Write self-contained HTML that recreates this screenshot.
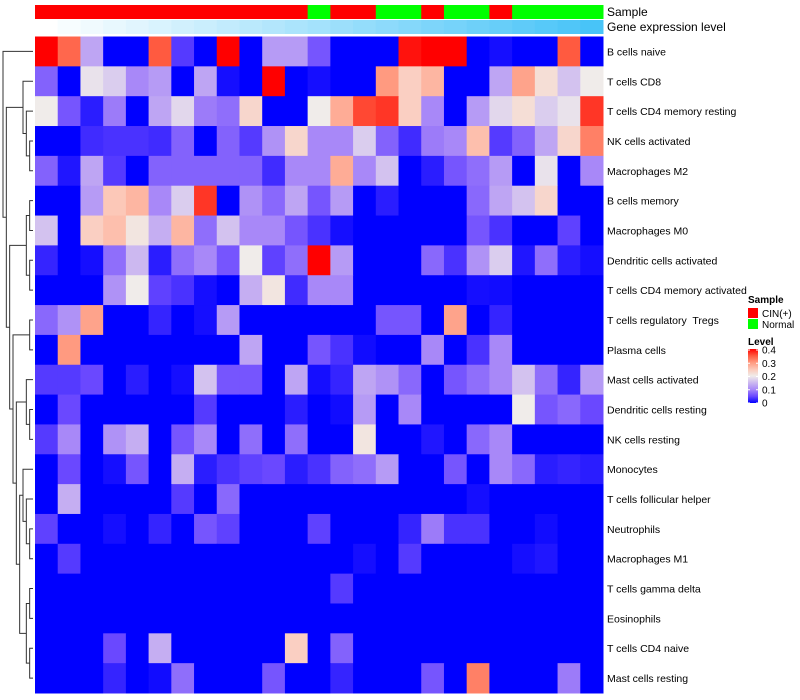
<!DOCTYPE html>
<html><head><meta charset="utf-8"><style>
html,body{margin:0;padding:0;background:#fff;}
svg{display:block;font-family:"Liberation Sans",Arial,sans-serif;}
</style></head><body>
<svg id="chart" width="800" height="700" viewBox="0 0 800 700"></svg>
<script>
const rowNames = ["B cells naive","T cells CD8","T cells CD4 memory resting","NK cells activated","Macrophages M2","B cells memory","Macrophages M0","Dendritic cells activated","T cells CD4 memory activated","T cells regulatory  Tregs","Plasma cells","Mast cells activated","Dendritic cells resting","NK cells resting","Monocytes","T cells follicular helper","Neutrophils","Macrophages M1","T cells gamma delta","Eosinophils","T cells CD4 naive","Mast cells resting"];
const sampleGroups = ["CIN","CIN","CIN","CIN","CIN","CIN","CIN","CIN","CIN","CIN","CIN","CIN","Normal","CIN","CIN","Normal","Normal","CIN","Normal","Normal","CIN","Normal","Normal","Normal","Normal"];
const geneLevel = [0,1,2,3,4,5,6,7,8,9,10,11,12,13,14,15,16,17,18,19,20,21,22,23,24];
const legendTicks = [0,0.1,0.2,0.3,0.4];
const values = [
[0.4,0.34,0.13,0,0,0.35,0.04,0,0.4,0,0.12,0.12,0.06,0,0,0,0.39,0.4,0.4,0,0.01,0,0,0.35,0],
[0.07,0,0.19,0.17,0.1,0.12,0,0.13,0.01,0,0.4,0,0.01,0,0,0.3,0.24,0.27,0,0,0.13,0.29,0.22,0.16,0.2],
[0.2,0.06,0.02,0.09,0,0.13,0.18,0.09,0.08,0.23,0,0,0.2,0.28,0.36,0.37,0.24,0.1,0,0.12,0.18,0.22,0.17,0.19,0.37],
[0,0,0.03,0.035,0.035,0.03,0.07,0,0.07,0.04,0.11,0.23,0.1,0.1,0.17,0.07,0.03,0.09,0.1,0.26,0.04,0.07,0.13,0.23,0.32],
[0.07,0.015,0.13,0.04,0,0.07,0.07,0.07,0.07,0.07,0.03,0.1,0.1,0.28,0.1,0.16,0,0.02,0.06,0.08,0.12,0,0.19,0,0.1],
[0,0,0.12,0.25,0.27,0.1,0.17,0.37,0,0.11,0.075,0.13,0.06,0.12,0,0.02,0,0,0,0.075,0.13,0.16,0.23,0,0],
[0.16,0,0.24,0.26,0.21,0.14,0.27,0.08,0.16,0.1,0.1,0.06,0.035,0.01,0,0,0,0,0,0.06,0.035,0,0,0.045,0],
[0.025,0,0.01,0.08,0.15,0.02,0.08,0.1,0.06,0.2,0.045,0.08,0.4,0.12,0,0,0,0.075,0.035,0.11,0.17,0.015,0.08,0.02,0.01],
[0,0,0,0.11,0.2,0.045,0.035,0.01,0,0.14,0.21,0.03,0.1,0.1,0,0,0,0,0,0.01,0.008,0,0,0,0],
[0.075,0.11,0.29,0,0,0.025,0,0.01,0.12,0,0,0,0,0,0,0.06,0.06,0,0.29,0,0.025,0,0,0,0],
[0,0.3,0,0,0,0,0,0,0,0.13,0,0,0.06,0.035,0.008,0,0,0.1,0,0.035,0.1,0,0,0,0],
[0.04,0.04,0.05,0,0.02,0,0.01,0.16,0.06,0.06,0,0.13,0.01,0.025,0.13,0.11,0.075,0,0.06,0.08,0.1,0.16,0.08,0.025,0.12],
[0,0.05,0,0,0,0,0,0.04,0,0,0,0.02,0,0.008,0.12,0,0.1,0,0,0,0,0.2,0.06,0.075,0.05],
[0.04,0.1,0,0.11,0.14,0,0.06,0.1,0,0.08,0,0.08,0,0,0.21,0,0,0.015,0,0.075,0.1,0,0,0,0],
[0,0.05,0,0.01,0.06,0,0.14,0.02,0.035,0.045,0.05,0.02,0.035,0.07,0.08,0.12,0,0,0.06,0,0.1,0.075,0.02,0.025,0.02],
[0,0.14,0,0,0,0,0.04,0,0.075,0,0,0,0,0,0,0,0,0,0,0.01,0,0,0,0,0],
[0.045,0,0,0.01,0,0.025,0,0.06,0.045,0,0,0,0.045,0,0,0,0.025,0.09,0.035,0.035,0,0,0.008,0,0],
[0,0.04,0,0,0,0,0,0,0,0,0,0,0,0,0.01,0,0.04,0,0,0,0,0.01,0.015,0,0],
[0,0,0,0,0,0,0,0,0,0,0,0,0,0.04,0,0,0,0,0,0,0,0,0,0,0],
[0,0,0,0,0,0,0,0,0,0,0,0,0,0,0,0,0,0,0,0,0,0,0,0,0],
[0,0,0,0.05,0,0.14,0,0,0,0,0,0.24,0,0.07,0,0,0,0,0,0,0,0,0,0,0],
[0,0,0,0.025,0,0.008,0.08,0,0,0,0.06,0,0,0.025,0,0,0,0.06,0,0.32,0,0,0,0.09,0]
];
const NS="http://www.w3.org/2000/svg";
const svg=document.getElementById('chart');
const X0=35,X1=603,Y0=36.5,Y1=693;
const nC=values[0].length,nR=values.length;
const cw=(X1-X0)/nC,rh=(Y1-Y0)/nR;
function xPos(c){return X0+c*cw;}
function yPos(r){return Y0+r*rh;}
const stops=[[0,[0,0,255]],[0.05,[106,72,255]],[0.1,[168,136,248]],[0.15,[204,184,240]],[0.2,[240,236,234]],[0.25,[252,200,184]],[0.3,[255,154,128]],[0.35,[255,90,64]],[0.4,[255,0,0]]];
function color(v){v=Math.max(0,Math.min(0.4,v));for(let i=1;i<stops.length;i++){if(v<=stops[i][0]){const a=stops[i-1],b=stops[i];const t=(v-a[0])/(b[0]-a[0]);const c=a[1].map((x,k)=>Math.round(x+(b[1][k]-x)*t));return `rgb(${c[0]},${c[1]},${c[2]})`;}}return 'rgb(255,0,0)';}
function mk(tag,attrs){const e=document.createElementNS(NS,tag);for(const k in attrs)e.setAttribute(k,attrs[k]);return e;}
// annotation bars
sampleGroups.forEach((g,c)=>{const r=mk('rect',{x:xPos(c),y:5,width:cw+0.5,height:14,fill:g==="CIN"?"#ff0000":"#00ff00"});


svg.appendChild(r);});
geneLevel.forEach((g,c)=>{const t=g/(geneLevel.length-1);const col=`rgb(${Math.round(255-t*(255-72))},${Math.round(255-t*(255-196))},${Math.round(255-t*(255-248))})`;
const r=mk('rect',{x:xPos(c),y:20,width:cw+0.5,height:14,fill:col});


svg.appendChild(r);});
// cells
values.forEach((row,r)=>row.forEach((v,c)=>{const e=mk('rect',{x:xPos(c),y:yPos(r),width:cw+0.5,height:rh+0.5,fill:color(v)});


svg.appendChild(e);}));
// row labels
rowNames.forEach((n,r)=>{const t=mk('text',{x:607,y:yPos(r)+rh/2+4,'font-size':10.5,fill:'#000'});t.setAttribute('xml:space','preserve');t.style.whiteSpace='pre';t.textContent=n;


svg.appendChild(t);});
const a1=mk('text',{x:607,y:16,'font-size':12});a1.textContent='Sample';


svg.appendChild(a1);
const a2=mk('text',{x:607,y:31,'font-size':12});a2.textContent='Gene expression level';


svg.appendChild(a2);
// dendrogram
const tree=[0,[[1,[2,[3,4]]],[[[5,6],[7,8]],[[9,10],[[11,[12,13]],[[14,[15,[16,17]]],[[18,19],[20,21]]]]]]]];
function hgt(n){if(typeof n==='number')return 0;return 1+Math.max(hgt(n[0]),hgt(n[1]));}
const H=hgt(tree);
function hx(h){return 33-h*(30/H);}
const dg=mk('g',{stroke:'#333','stroke-width':1,fill:'none'});


svg.appendChild(dg);
function draw(n){if(typeof n==='number')return {y:yPos(n)+rh/2,x:33};
const a=draw(n[0]),b=draw(n[1]);const x=hx(hgt(n));
dg.appendChild(mk('path',{d:`M${a.x},${a.y}H${x}V${b.y}H${b.x}`}));return {y:(a.y+b.y)/2,x:x};}
draw(tree);
// legend
const lg=mk('g',{});


svg.appendChild(lg);
function txt(x,y,s,w,size){const t=mk('text',{x:x,y:y,'font-size':size||10,'font-weight':w||'normal'});t.textContent=s;lg.appendChild(t);return t;}
txt(748,303,'Sample','bold');
lg.appendChild(mk('rect',{x:748,y:308,width:10,height:10,fill:'#ff0000'}));
txt(762,317,'CIN(+)');
lg.appendChild(mk('rect',{x:748,y:319,width:10,height:10,fill:'#00ff00'}));
txt(762,328,'Normal');
txt(748,345,'Level','bold');
const grad=mk('linearGradient',{id:'lvl',x1:0,y1:1,x2:0,y2:0});
stops.forEach(s=>grad.appendChild(mk('stop',{offset:s[0]/0.4,'stop-color':color(s[0])})));
const defs=mk('defs',{});defs.appendChild(grad);svg.appendChild(defs);
lg.appendChild(mk('rect',{x:748,y:349,width:10,height:54,fill:'url(#lvl)'}));
legendTicks.forEach(v=>{const y=403-v/0.4*53;lg.appendChild(mk('line',{x1:748,x2:750,y1:y,y2:y,stroke:'#fff'}));lg.appendChild(mk('line',{x1:756,x2:758,y1:y,y2:y,stroke:'#fff'}));txt(762,y+3.5,String(v));});
</script>
</body></html>
